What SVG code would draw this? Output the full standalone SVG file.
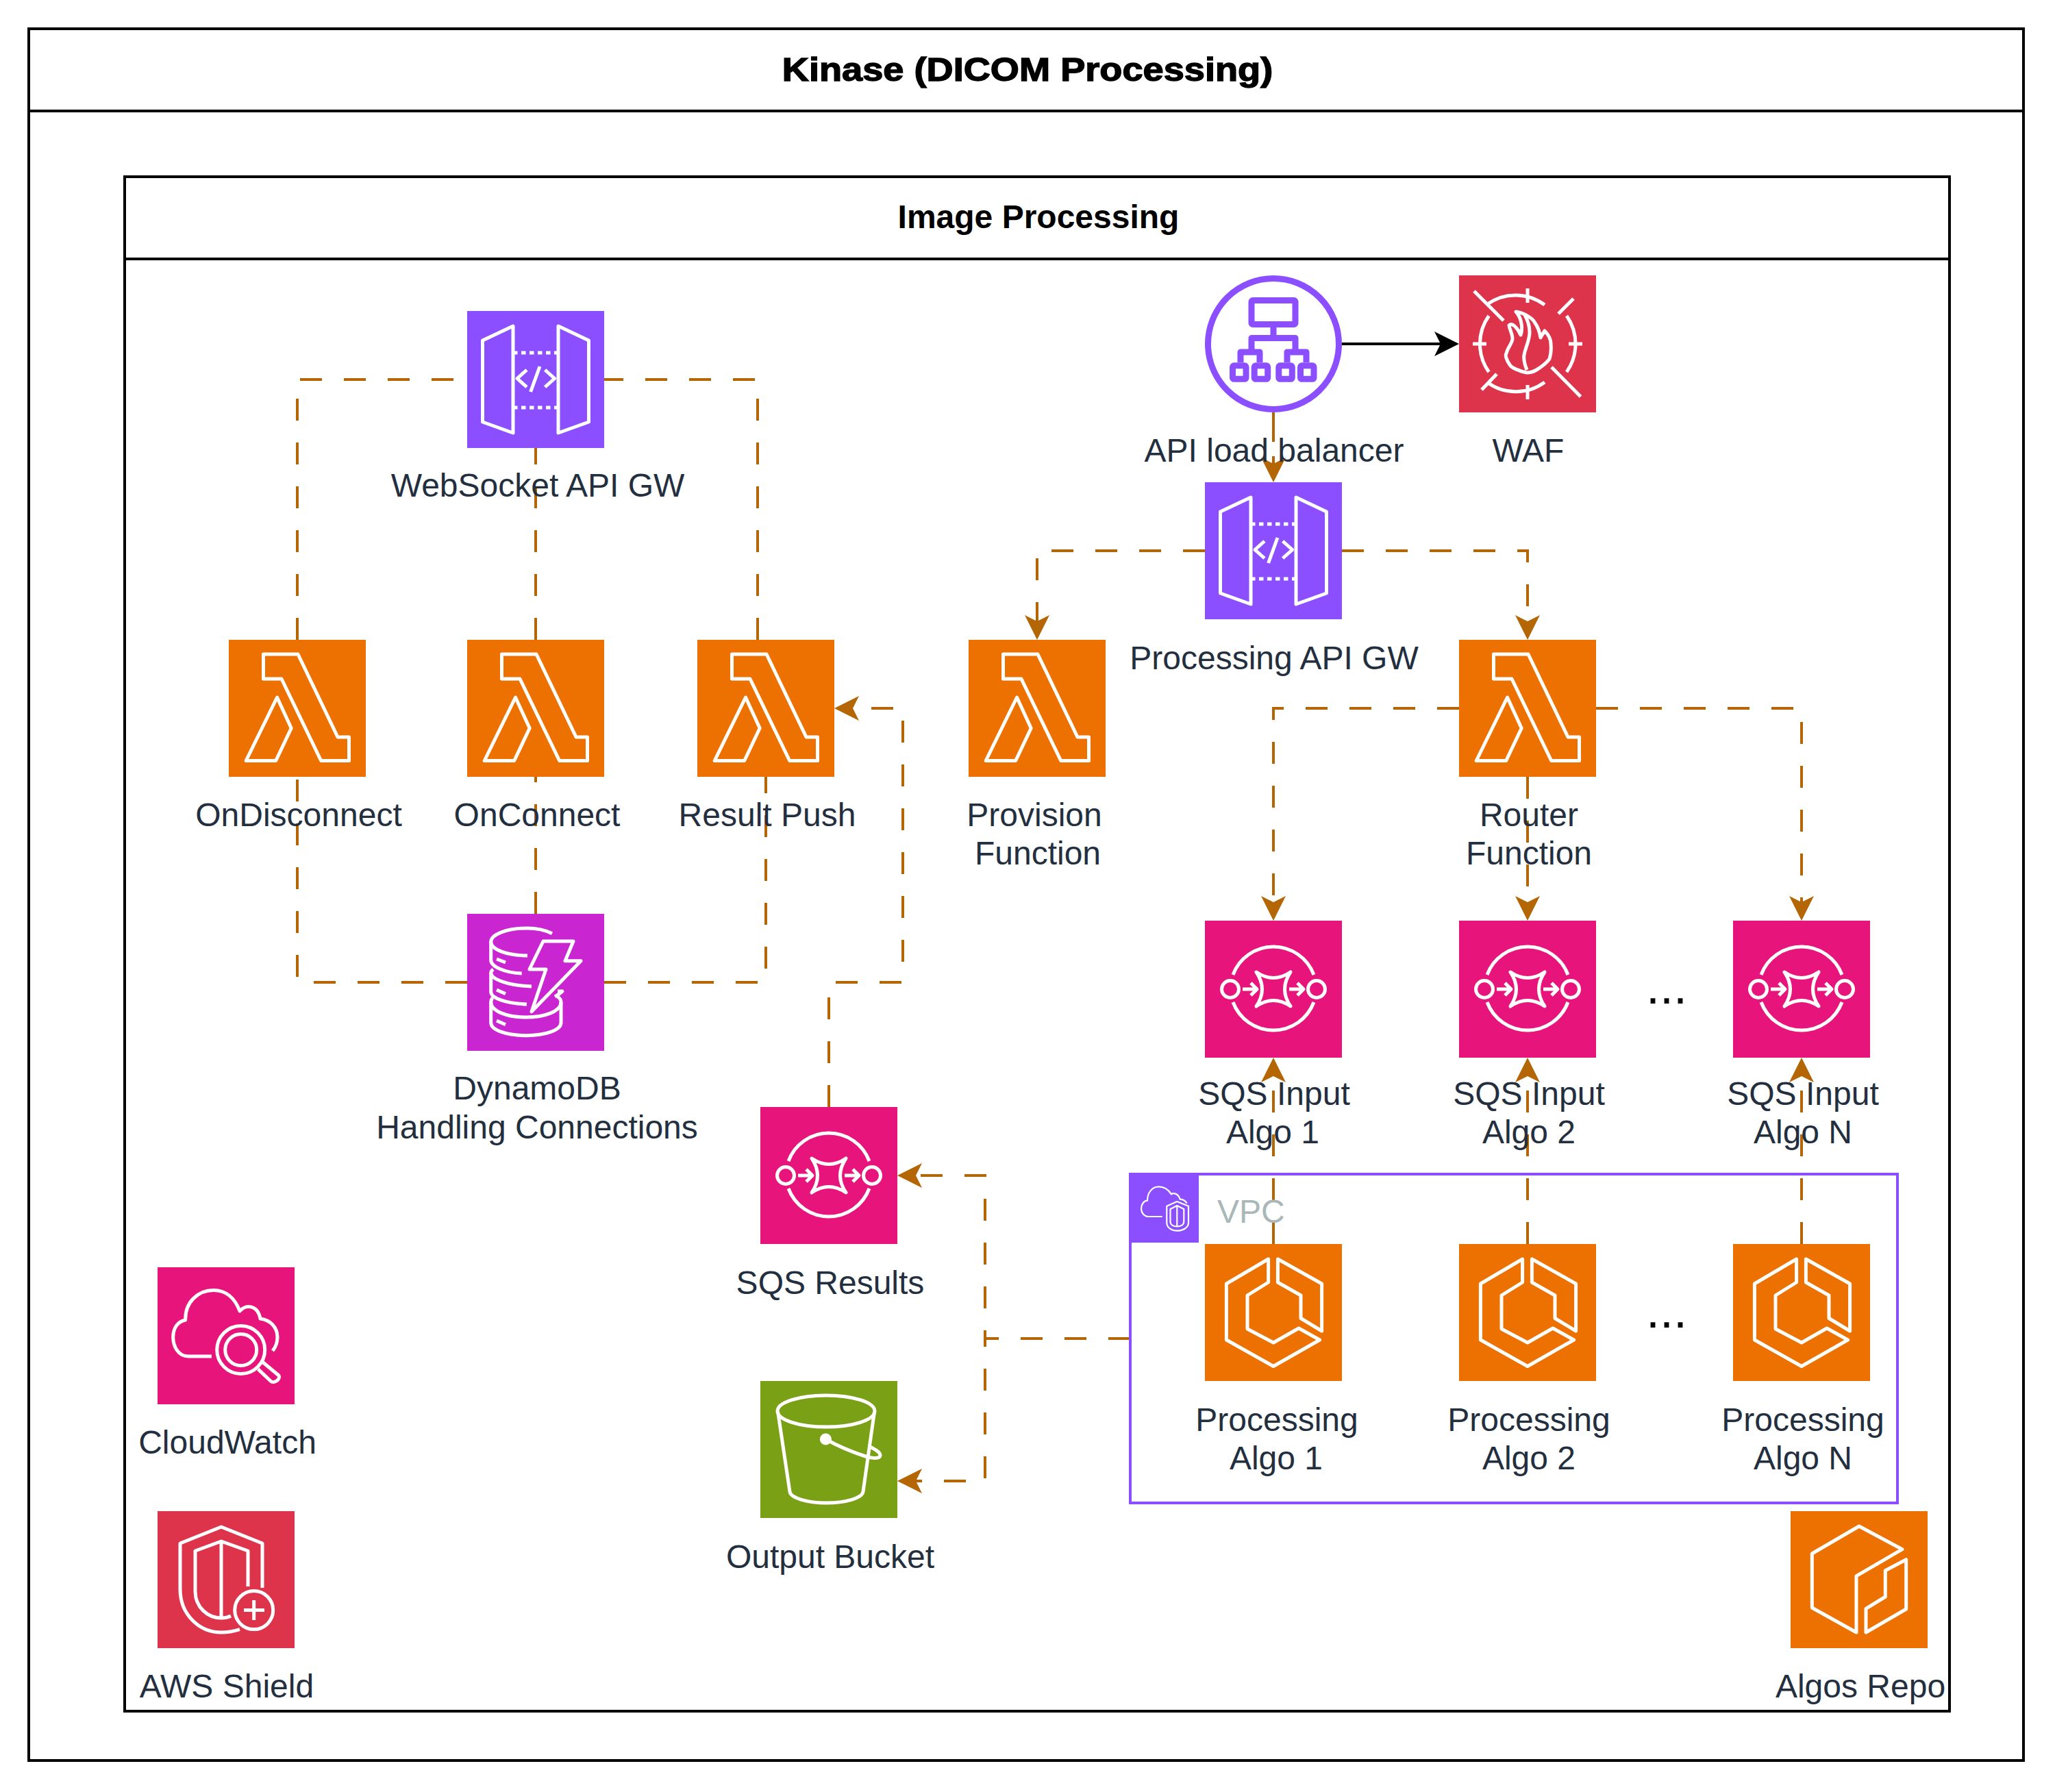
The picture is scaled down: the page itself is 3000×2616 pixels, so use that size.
<svg xmlns="http://www.w3.org/2000/svg" width="3000" height="2616" viewBox="0 0 3000 2616">
<style>
text{font-family:"Liberation Sans",Arial,sans-serif;font-size:48px;fill:#232F3E;text-anchor:middle}
text.title{font-weight:bold;fill:#000}
text.heavy{stroke:#000;stroke-width:1.4}
text.vpc{fill:#AAB7B8;text-anchor:start}
text.dots{fill:#000;font-size:72px}
.frame{fill:none;stroke:#000;stroke-width:4}
.edge{fill:none;stroke:#B46504;stroke-width:4;stroke-dasharray:32 32}
.g{fill:none;stroke:#fff;stroke-width:5;stroke-linejoin:round}
.gt{fill:none;stroke:#fff;stroke-width:2.2;stroke-linejoin:round}
.p{fill:none;stroke:#8C4FFF;stroke-width:9;stroke-linejoin:round}
.purple{fill:#8C4FFF}.orange{fill:#ED7100}.pink{fill:#E7157B}.red{fill:#DD344C}.magenta{fill:#C925D1}.green{fill:#7AA116}
</style>
<defs>
<marker id="ah" markerUnits="userSpaceOnUse" markerWidth="36" markerHeight="36" viewBox="0 0 36 36" refX="24" refY="18" orient="auto"><path d="M0 0L36 18L0 36L9 18Z" fill="#B46504"/></marker>
<marker id="ak" markerUnits="userSpaceOnUse" markerWidth="36" markerHeight="36" viewBox="0 0 36 36" refX="24" refY="18" orient="auto"><path d="M0 0L36 18L0 36L9 18Z" fill="#000"/></marker>
<g id="i-lambda" class="g"><path d="M50.5 21H101L159 142H175.5V176.5H134.7L77 57H50.5Z"/><path d="M70.5 84L91.2 129L68.7 176.5H25.2Z"/></g>
<g id="i-apigw" class="g"><path d="M67 22V178L22.5 162V43Z"/><path d="M133 22V178L177.5 162V43Z"/><path d="M67 61H133M67 141H133" stroke-dasharray="6.5 5.5"/><path d="M87 86L73 98.5L87 111M113.6 86L127.7 98.5L113.6 111M106 81L92.6 118"/></g>
<g id="i-waf" class="g"><path d="M41.4 42A71 71 0 0 1 125 43M157 59A71 71 0 0 1 157 141M125 156A71 71 0 0 1 41 156M43.5 141A71 71 0 0 1 43.5 59"/><path d="M100 19V40M100 160V181M20 100H40M160 100H180M22 23L65 66M135 134L177.5 177M167 34L145 56M55 144L33 167"/><path d="M99 142C88 140 78 135 75 132C69 124 67 116 69 114C71 105 77 100 78 93C78 85 74 80 73 73C78 68 86 78 90 87C93 78 92 63 83 53C97 55 108 64 110 68C115 75 118 84 119 91C121 87 123 84 125 81C131 87 134 94 134 100C135 110 134 116 132 122C126 130 118 135 113 138C108 141 103 142 99 142Z"/><path d="M99 138C95 128 94 122 95 116C97 105 103 95 103 83C103 73 100 65 96 58"/></g>
<g id="i-sqs" class="g"><path d="M41 79A63 63 0 0 1 159 79M41 119A63 63 0 0 0 159 119"/><circle cx="37" cy="100" r="12.5"/><circle cx="163" cy="100" r="12.5"/><path d="M75 75Q100 92 125 75Q108 100 125 125Q100 108 75 125Q92 100 75 75Z"/><path d="M55 100H76M67 91L76 100L67 109M123 100H144M135 91L144 100L135 109"/></g>
<g id="i-ecs" class="g"><path d="M92.6 22L31.4 58V140L100 178.5L167.6 140L137 123L100 144L62 124V75L92.6 56Z"/><path d="M106.4 22L170.6 58V127L140 108.5V75L106.4 56Z"/></g>
<g id="i-cw" class="g"><path d="M79 130H45C30 130 22.7 115 22.7 102C22.7 88 30 79 40.7 77C40 50 60 33.5 81.7 33.5C100 33.5 113 45 120 64C128 54 146 54 150 75C165 77 175 88 175 102C175 110 172 117 168 122"/><circle cx="121.7" cy="120.5" r="35"/><circle cx="121.7" cy="120.5" r="23"/><path d="M146.7 148.6L165 166C170 171 180 163 177 158L153 138"/></g>
<g id="i-shield" class="g"><path d="M153 112V47L93 23L33 47V114C33 150 60 177 93 177C103 177 112 175 120 172.6"/><path d="M132 110V58L93 44L55 58V117C55 140 73 156 93 156C98 156 103 155 107 153"/><path d="M93 44V156"/><circle cx="140.7" cy="144.6" r="28"/><path d="M126 144.6H156M140.7 130V159"/></g>
<g id="i-repo" class="g"><path d="M100 22L163 55.7L96 94.7V177L31.3 141V62Z"/><path d="M168.7 70.7V143L110 177V142.3L138.3 125V86.7Z"/></g>
<g id="i-dynamo" class="g"><path d="M124 28.7C112 23 100 21 88 21C58 21 34.7 30 34.7 41C34.7 52 58 61 88 61"/><path d="M34.7 41V67.7C34.7 77 55 86 79.7 87"/><path d="M38 81C35.5 83 34.7 84.5 34.7 86V114C34.7 124 60 131 87 132"/><path d="M34.7 86C34.7 96 62 105 94 106"/><path d="M37 122.7C35.5 124.5 34.7 126 34.7 129V159C34.7 170 58 177.7 86 177.7C114 177.7 137 170 137 159V129C137 126 135 123 132 121"/><path d="M34.7 129C34.7 142 58 151 86 151C114 151 137 142 137 129"/><path d="M128 121L133 118L139 113H132"/><path d="M43 66L56 71M43 111L56 116.7M43 156L56 161.7"/><path d="M111 40H155L143 68.7H166L94 142.7L115 81H91Z"/></g>
<g id="i-bucket" class="g"><ellipse cx="96" cy="44" rx="71" ry="23"/><path d="M25.6 45L43 161.6C44 171 70 178 96 178C124 178 149 171 150 161.6L166.5 45"/><circle cx="95.4" cy="85" r="6" fill="#fff"/><path d="M95.4 85C115 96 135 104 153.5 110C163 113 175 114 175 108.6C175 104 168 100 160 96"/></g>
<g id="i-vpc" class="gt"><path d="M46.7 62H26.7C20 62 16 56 16 50C16 44 20 39 25 38.7C25 27 32 18.3 41.7 18.3C50 18.3 56 23 60 29.3C63 27 70 28 72.7 36.7C77 37 81 40 82.7 42.7"/><path d="M68.3 40L85 46.7V71C85 78 77 82.7 68.3 82.7C60 82.7 53.3 78 53.3 71V46.7Z"/><path d="M68.3 46L78.3 51V69C78.3 74 74 76.5 68.3 76.5C63 76.5 58.5 74 58.5 69V51Z"/><path d="M68.3 46V76.5"/></g>
<g id="i-alb" class="p"><rect x="68" y="36.5" width="64" height="35" rx="2"/><path d="M100 72V91.5M68 108V91.5H132V108"/><path d="M52 127V112H80V127M120 127V112H148V127"/><rect x="40.5" y="131.8" width="19.5" height="19.5" rx="2"/><rect x="72.2" y="131.8" width="19.5" height="19.5" rx="2"/><rect x="107.8" y="131.8" width="19.5" height="19.5" rx="2"/><rect x="139.5" y="131.8" width="19.5" height="19.5" rx="2"/></g>
</defs>
<rect width="3000" height="2616" fill="#fff"/>
<g id="kinase-frame"><rect class="frame" x="42" y="42" width="2912" height="2528"/><path class="frame" d="M42 162H2954"/><text class="title heavy" transform="translate(1500 118) scale(1.129 1)">Kinase (DICOM Processing)</text></g>
<g id="image-processing-frame"><rect class="frame" x="182" y="258" width="2664" height="2240"/><path class="frame" d="M182 378H2846"/><text class="title" x="1516" y="333">Image Processing</text></g>
<g id="connectors">
<path class="edge" d="M434 934V554H682"/>
<path class="edge" d="M782 934V654"/>
<path class="edge" d="M1106 934V554H882"/>
<path class="edge" d="M682 1434H434V1134"/>
<path class="edge" d="M782 1334V1134"/>
<path class="edge" d="M882 1434H1118V1134"/>
<path class="edge" d="M1210 1616V1434H1318V1034H1230" marker-end="url(#ah)"/>
<path d="M1959 502H2118" fill="none" stroke="#000" stroke-width="4" marker-end="url(#ak)"/>
<path class="edge" style="stroke-dasharray:43 21 40" d="M1859 602V692" marker-end="url(#ah)"/>
<path class="edge" d="M1759 804H1514V922" marker-end="url(#ah)"/>
<path class="edge" d="M1959 804H2230V922" marker-end="url(#ah)"/>
<path class="edge" d="M2130 1034H1859V1332" marker-end="url(#ah)"/>
<path class="edge" d="M2230 1134V1332" marker-end="url(#ah)"/>
<path class="edge" d="M2330 1034H2630V1332" marker-end="url(#ah)"/>
<path class="edge" d="M1859 1816V1556" marker-end="url(#ah)"/>
<path class="edge" d="M2230 1816V1556" marker-end="url(#ah)"/>
<path class="edge" d="M2630 1816V1556" marker-end="url(#ah)"/>
<path class="edge" d="M1650 1954H1438V1716H1322" marker-end="url(#ah)"/>
<path class="edge" d="M1650 1954H1438V2162H1322" marker-end="url(#ah)"/>
</g>
<g id="vpc"><rect x="1650" y="1714" width="1120" height="480" fill="none" stroke="#8C4FFF" stroke-width="4"/><rect class="purple" x="1648" y="1712" width="102" height="102"/><use href="#i-vpc" x="1650" y="1714"/><text class="vpc" x="1777" y="1785">VPC</text></g>
<g id="websocket-api-gw"><rect class="purple" x="682" y="454" width="200" height="200"/><use href="#i-apigw" x="682" y="454"/><text x="785" y="725">WebSocket API GW</text></g>
<g id="on-disconnect"><rect class="orange" x="334" y="934" width="200" height="200"/><use href="#i-lambda" x="334" y="934"/><text x="436" y="1206">OnDisconnect</text></g>
<g id="on-connect"><rect class="orange" x="682" y="934" width="200" height="200"/><use href="#i-lambda" x="682" y="934"/><text x="784" y="1206">OnConnect</text></g>
<g id="result-push"><rect class="orange" x="1018" y="934" width="200" height="200"/><use href="#i-lambda" x="1018" y="934"/><text x="1120" y="1206">Result Push</text></g>
<g id="provision-function"><rect class="orange" x="1414" y="934" width="200" height="200"/><use href="#i-lambda" x="1414" y="934"/><text x="1510" y="1206">Provision</text><text x="1515" y="1262">Function</text></g>
<g id="router-function"><rect class="orange" x="2130" y="934" width="200" height="200"/><use href="#i-lambda" x="2130" y="934"/><text x="2232" y="1206">Router</text><text x="2232" y="1262">Function</text></g>
<g id="dynamodb"><rect class="magenta" x="682" y="1334" width="200" height="200"/><use href="#i-dynamo" x="682" y="1334"/><text x="784" y="1605">DynamoDB</text><text x="784" y="1662">Handling Connections</text></g>
<g id="api-load-balancer"><circle cx="1859" cy="502" r="95.5" fill="#fff" stroke="#8C4FFF" stroke-width="9"/><use href="#i-alb" x="1759" y="402"/><text x="1860" y="674">API load balancer</text></g>
<g id="waf"><rect class="red" x="2130" y="402" width="200" height="200"/><use href="#i-waf" x="2130" y="402"/><text x="2231" y="674">WAF</text></g>
<g id="processing-api-gw"><rect class="purple" x="1759" y="704" width="200" height="200"/><use href="#i-apigw" x="1759" y="704"/><text x="1860" y="977">Processing API GW</text></g>
<g id="sqs-input-1"><rect class="pink" x="1759" y="1344" width="200" height="200"/><use href="#i-sqs" x="1759" y="1344"/><text x="1860" y="1613">SQS Input</text><text x="1858" y="1669">Algo 1</text></g>
<g id="sqs-input-2"><rect class="pink" x="2130" y="1344" width="200" height="200"/><use href="#i-sqs" x="2130" y="1344"/><text x="2232" y="1613">SQS Input</text><text x="2232" y="1669">Algo 2</text></g>
<g id="sqs-input-n"><rect class="pink" x="2530" y="1344" width="200" height="200"/><use href="#i-sqs" x="2530" y="1344"/><text x="2632" y="1613">SQS Input</text><text x="2632" y="1669">Algo N</text></g>
<text class="dots" x="2433" y="1465">...</text>
<g id="sqs-results"><rect class="pink" x="1110" y="1616" width="200" height="200"/><use href="#i-sqs" x="1110" y="1616"/><text x="1212" y="1889">SQS Results</text></g>
<g id="output-bucket"><rect class="green" x="1110" y="2016" width="200" height="200"/><use href="#i-bucket" x="1110" y="2016"/><text x="1212" y="2289">Output Bucket</text></g>
<g id="processing-1"><rect class="orange" x="1759" y="1816" width="200" height="200"/><use href="#i-ecs" x="1759" y="1816"/><text x="1864" y="2089">Processing</text><text x="1863" y="2145">Algo 1</text></g>
<g id="processing-2"><rect class="orange" x="2130" y="1816" width="200" height="200"/><use href="#i-ecs" x="2130" y="1816"/><text x="2232" y="2089">Processing</text><text x="2232" y="2145">Algo 2</text></g>
<g id="processing-n"><rect class="orange" x="2530" y="1816" width="200" height="200"/><use href="#i-ecs" x="2530" y="1816"/><text x="2632" y="2089">Processing</text><text x="2632" y="2145">Algo N</text></g>
<text class="dots" x="2433" y="1938">...</text>
<g id="cloudwatch"><rect class="pink" x="230" y="1850" width="200" height="200"/><use href="#i-cw" x="230" y="1850"/><text x="332" y="2122">CloudWatch</text></g>
<g id="aws-shield"><rect class="red" x="230" y="2206" width="200" height="200"/><use href="#i-shield" x="230" y="2206"/><text x="331" y="2478">AWS Shield</text></g>
<g id="algos-repo"><rect class="orange" x="2614" y="2206" width="200" height="200"/><use href="#i-repo" x="2614" y="2206"/><text x="2716" y="2478">Algos Repo</text></g>
</svg>
